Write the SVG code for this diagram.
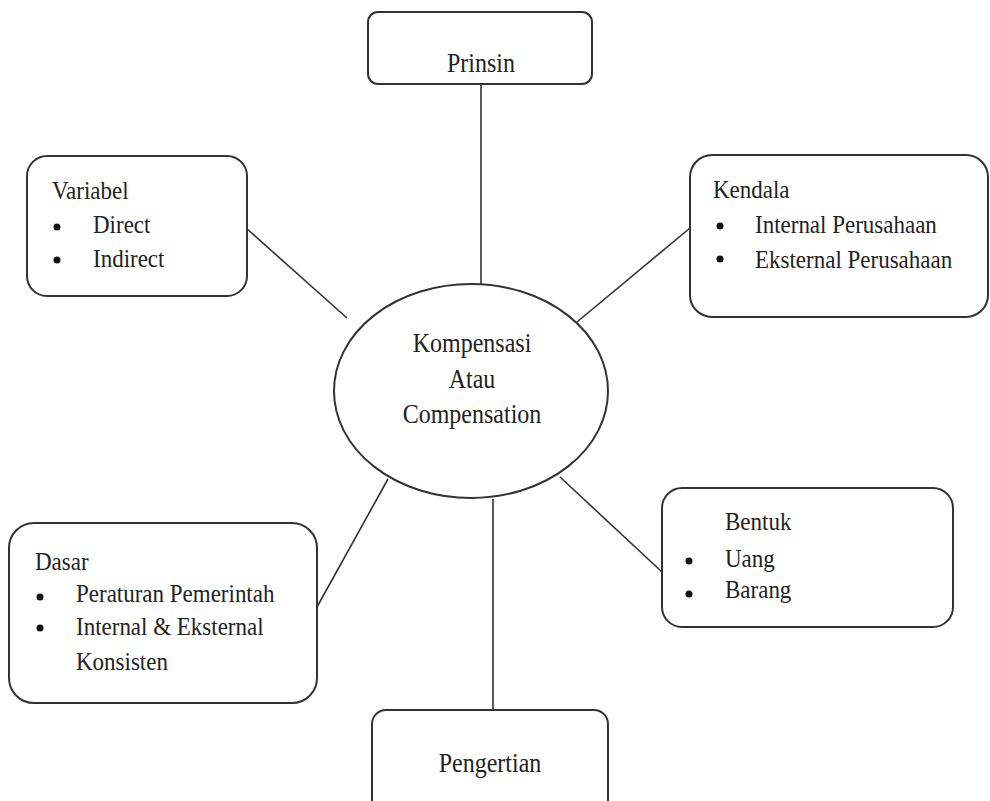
<svg xmlns="http://www.w3.org/2000/svg" width="990" height="801" viewBox="0 0 990 801">
<style>
.box{fill:#fff;stroke:#333;stroke-width:2}
.ln{stroke:#333;stroke-width:1.6;fill:none}
.t{font-family:"Liberation Serif","Times New Roman",serif;font-size:23px;fill:#222}
.c{font-family:"Liberation Serif","Times New Roman",serif;font-size:24px;fill:#222;text-anchor:middle}
.b{fill:#111}
</style>
<rect width="990" height="801" fill="#fff"/>
<g id="connectors">
<line class="ln" x1="481" y1="84" x2="481" y2="285"/>
<line class="ln" x1="246" y1="228" x2="347" y2="318"/>
<line class="ln" x1="690" y1="228" x2="577" y2="322"/>
<line class="ln" x1="388" y1="479" x2="317" y2="607"/>
<line class="ln" x1="560" y1="477" x2="662" y2="572"/>
<line class="ln" x1="493" y1="499" x2="493" y2="710"/>
</g>
<g id="prinsin">
<rect class="box" x="368" y="12" width="224" height="72" rx="10"/>
<text class="c" transform="translate(481,72) scale(1,1.1)">Prinsin</text>
</g>
<g id="variabel">
<rect class="box" x="27" y="156" width="220" height="140" rx="20"/>
<text class="t" transform="translate(52,199) scale(1,1.1)">Variabel</text>
<circle class="b" cx="57" cy="227" r="3.5"/>
<text class="t" transform="translate(93,233) scale(1,1.1)">Direct</text>
<circle class="b" cx="57" cy="260" r="3.5"/>
<text class="t" transform="translate(93,267) scale(1,1.1)">Indirect</text>
</g>
<g id="kendala">
<rect class="box" x="690" y="155" width="298" height="162" rx="22"/>
<text class="t" transform="translate(713,198) scale(1,1.1)">Kendala</text>
<circle class="b" cx="720" cy="226" r="3.5"/>
<text class="t" transform="translate(755,233) scale(1,1.1)">Internal Perusahaan</text>
<circle class="b" cx="720" cy="259" r="3.5"/>
<text class="t" transform="translate(755,268) scale(1,1.1)">Eksternal Perusahaan</text>
</g>
<g id="kompensasi">
<ellipse class="box" cx="471" cy="391" rx="137" ry="107"/>
<text class="c" transform="translate(472,352) scale(1,1.1)">Kompensasi</text>
<text class="c" transform="translate(472,388) scale(1,1.1)">Atau</text>
<text class="c" transform="translate(472,423) scale(1,1.1)">Compensation</text>
</g>
<g id="dasar">
<rect class="box" x="9" y="523" width="308" height="180" rx="25"/>
<text class="t" transform="translate(35,570) scale(1,1.1)">Dasar</text>
<circle class="b" cx="40" cy="597" r="3.5"/>
<text class="t" transform="translate(76,602) scale(1,1.1)">Peraturan Pemerintah</text>
<circle class="b" cx="40" cy="628" r="3.5"/>
<text class="t" transform="translate(76,635) scale(1,1.1)">Internal &amp; Eksternal</text>
<text class="t" transform="translate(76,670) scale(1,1.1)">Konsisten</text>
</g>
<g id="bentuk">
<rect class="box" x="662" y="488" width="291" height="139" rx="20"/>
<text class="t" transform="translate(725,530) scale(1,1.1)">Bentuk</text>
<circle class="b" cx="689" cy="561" r="3.5"/>
<text class="t" transform="translate(725,567) scale(1,1.1)">Uang</text>
<circle class="b" cx="689" cy="594" r="3.5"/>
<text class="t" transform="translate(725,598) scale(1,1.1)">Barang</text>
</g>
<g id="pengertian">
<rect class="box" x="372" y="710" width="236" height="110" rx="14"/>
<text class="c" transform="translate(490,772) scale(1,1.1)">Pengertian</text>
</g>
</svg>
